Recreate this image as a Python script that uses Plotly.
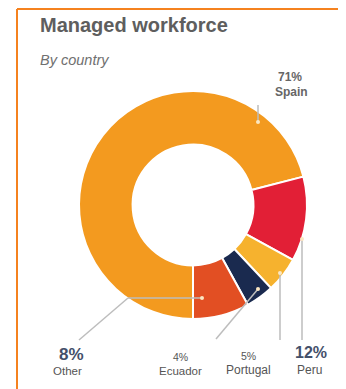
import plotly.graph_objects as go

W, H = 346, 389
OFF = 8  # page body margin around the plot div

countries = ['Spain', 'Peru', 'Portugal', 'Ecuador', 'Other']
shares = [71, 12, 5, 4, 8]
colors = ['#F39A1F', '#E21F36', '#F6B22E', '#1A2A4F', '#E24F23']


def px(x, y):
    # screen pixel position -> paper fraction
    return (x - OFF) / W, 1 - (y - OFF) / H


# donut placement (pixels)
cx, cy, r = 193, 205, 114
x0, y0 = px(cx - r, cy + r)
x1, y1 = px(cx + r, cy - r)

fig = go.Figure(go.Pie(
    labels=countries,
    values=shares,
    sort=False,
    direction='clockwise',
    rotation=180,
    hole=0.53,
    marker=dict(colors=colors, line=dict(color='white', width=2)),
    textinfo='none',
    hoverinfo='label+percent',
    domain=dict(x=[x0, x1], y=[y0, y1]),
    showlegend=False,
))

line_col = '#BDBDBD'
shapes = []


def seg(pts, color=line_col, width=1.5):
    for (ax, ay), (bx, by) in zip(pts[:-1], pts[1:]):
        fa, ga = px(ax, ay)
        fb, gb = px(bx, by)
        shapes.append(dict(type='line', xref='paper', yref='paper',
                           x0=fa, y0=ga, x1=fb, y1=gb,
                           line=dict(color=color, width=width)))


def dot(x, y):
    fa, ga = px(x - 2, y + 2)
    fb, gb = px(x + 2, y - 2)
    shapes.append(dict(type='circle', xref='paper', yref='paper',
                       x0=fa, y0=ga, x1=fb, y1=gb,
                       fillcolor='#FBE7C2', line=dict(width=0)))


# leader lines
seg([(258, 105), (258, 122)])
dot(258, 122)
seg([(202, 298), (128, 298), (79, 340)])
dot(202, 298)
seg([(258, 289), (216, 339)])
dot(258, 289)
seg([(280, 273), (280, 340)])
dot(280, 273)
seg([(302, 239), (302, 340)])
dot(302, 239)

# orange frame
seg([(17, 9), (W + OFF, 9)], '#F5821F', 2)
seg([(17, 9), (17, H + OFF)], '#F5821F', 2)

annotations = []


def label(x, y, text, size, color, bold=False, anchor='center', italic=False):
    fx, fy = px(x, y)
    if bold:
        text = '<b>' + text + '</b>'
    if italic:
        text = '<i>' + text + '</i>'
    annotations.append(dict(x=fx, y=fy, xref='paper', yref='paper', text=text,
                            showarrow=False, xanchor=anchor, yanchor='middle',
                            font=dict(size=size, color=color, family='Liberation Sans')))


label(38, 25, 'Managed workforce', 20, '#5E5E5E', bold=True, anchor='left')
label(38, 60, 'By country', 14.5, '#707070', anchor='left', italic=True)

pct = {c: f'{v}%' for c, v in zip(countries, shares)}
label(290, 77, pct['Spain'], 12, '#666666', bold=True)
label(291, 92, 'Spain', 12, '#666666', bold=True)
label(71, 354, pct['Other'], 17, '#44506A', bold=True)
label(67, 371, 'Other', 11.5, '#555555')
label(180, 357, pct['Ecuador'], 10.5, '#555555')
label(180, 371, 'Ecuador', 11.5, '#555555')
label(248, 356, pct['Portugal'], 10.5, '#555555')
label(248, 370, 'Portugal', 12, '#555555')
label(311, 352, pct['Peru'], 16, '#44506A', bold=True)
label(309, 370, 'Peru', 12, '#555555')

fig.update_layout(
    width=W, height=H, autosize=False,
    margin=dict(l=0, r=0, t=0, b=0),
    paper_bgcolor='white',
    plot_bgcolor='white',
    shapes=shapes,
    annotations=annotations,
)

fig.write_html("out.html")
